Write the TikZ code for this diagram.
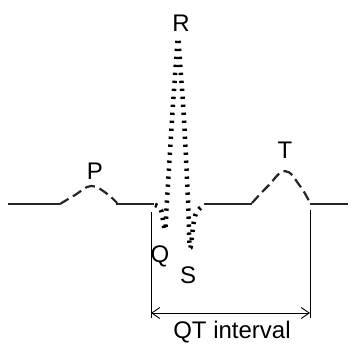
\documentclass[tikz,border=0pt]{standalone}
\usepackage{fontspec}
\setmainfont{Liberation Sans}
\usetikzlibrary{arrows.meta}
\begin{document}
\begin{tikzpicture}[x=1pt,y=-1pt,
  base/.style={line width=1.3pt,black!85},
  qrs/.style={line width=4.5pt,dash pattern=on 2.3pt off 5.7pt,black},
  wave/.style={line width=2.2pt,dash pattern=on 10pt off 5pt,black!85},
  marker/.style={line width=0.9pt,black},
  lbl/.style={font=\fontsize{24}{28}\selectfont,anchor=base,inner sep=0pt}]
\useasboundingbox (0,0) rectangle (355,343);
% baseline pieces
\coordinate (b0) at (8,204);
\coordinate (p0) at (60,204);
\coordinate (p1) at (116,204);
\coordinate (q0) at (154,204);
\coordinate (s1) at (204,204);
\coordinate (t0) at (252,204);
\coordinate (t1) at (310,204);
\coordinate (b1) at (348,204);
\draw[base] (b0) -- (p0);
\draw[base] (p1) -- (q0);
\draw[base] (s1) -- (t0);
\draw[base] (t1) -- (b1);
% P wave
\draw[wave] plot[smooth,tension=0.7] coordinates {(60,204) (75,195) (91,186) (106,193) (117,203)};
% T wave
\draw[wave] plot[smooth,tension=0.7] coordinates {(252,203) (268,186) (285,171) (300,186) (310,203)};
% QRS complex
\draw[qrs] plot[smooth,tension=0.6] coordinates {(155,205) (161,210) (165,230) (167,200) (172,120) (176,62) (178,38) (180,62) (184,120) (188,200) (190,248) (195,216) (204,205)};
% QT markers
\coordinate (ql) at (151,212);
\coordinate (qlb) at (151,318);
\coordinate (qr) at (310,210);
\coordinate (qrb) at (310,318);
\draw[marker] (ql) -- (qlb);
\draw[marker] (qr) -- (qrb);
\coordinate (al) at (151,313);
\coordinate (ar) at (310,313);
\draw[marker,{Straight Barb[length=8pt,width=11pt]}-{Straight Barb[length=8pt,width=11pt]}] (al) -- (ar);
% labels
\node[lbl] (P) at (95,179) {P};
\node[lbl] (R) at (181,31) {R};
\node[lbl] (Q) at (160,262) {Q};
\node[lbl] (S) at (188,283) {S};
\node[lbl] (T) at (285,158) {T};
\node[lbl] (QT) at (232,338) {QT interval};
\end{tikzpicture}
\end{document}
